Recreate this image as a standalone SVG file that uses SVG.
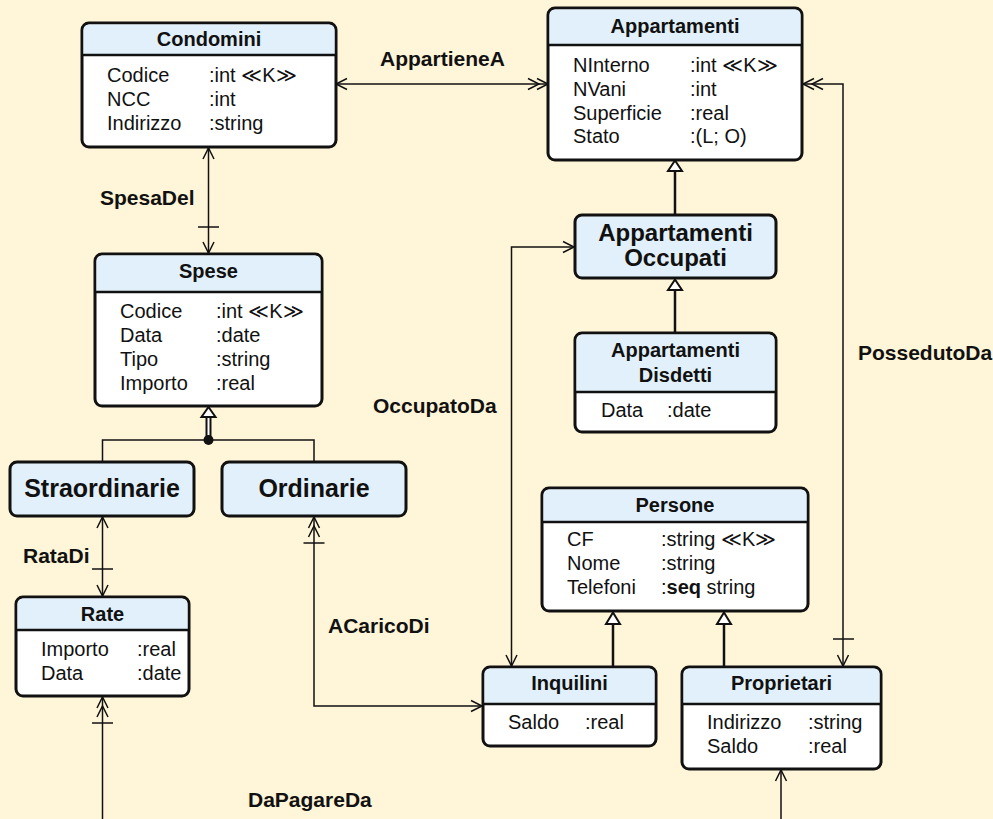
<svg xmlns="http://www.w3.org/2000/svg" width="993" height="819" viewBox="0 0 993 819">
<defs>
<style>
text{font-family:"Liberation Sans",Arial,Helvetica,sans-serif;fill:#111}
.box{fill:#fff;stroke:#111;stroke-width:3}
.hdr{fill:#e1f0fa}
.sep{stroke:#111;stroke-width:2.5}
.t{font-size:20px;font-weight:bold;text-anchor:middle}
.big{font-size:25px;font-weight:bold;text-anchor:middle}
.a{font-size:20px}
.lbl{font-size:21px;font-weight:bold}
.c{fill:none;stroke:#111;stroke-width:1.5}
.g{fill:none;stroke:#111;stroke-width:2.5}
.tri{fill:#fff;stroke:#111;stroke-width:2}
</style>
<marker id="arr" markerUnits="userSpaceOnUse" viewBox="-12 -7 14 14" refX="0" refY="0" markerWidth="14" markerHeight="14" orient="auto-start-reverse">
<path d="M-11,-5.5 L0,0 L-11,5.5" fill="none" stroke="#111" stroke-width="1.5"/>
</marker>
<marker id="arr2" markerUnits="userSpaceOnUse" viewBox="-22 -7 24 14" refX="0" refY="0" markerWidth="24" markerHeight="14" orient="auto-start-reverse">
<path d="M-11,-5.5 L0,0 L-11,5.5 M-20,-5.5 L-9,0 L-20,5.5" fill="none" stroke="#111" stroke-width="1.5"/>
</marker>
</defs>
<rect width="993" height="819" fill="#fff5d8"/>

<g id="connectors">
<line class="c" x1="336" y1="84" x2="548" y2="84" marker-start="url(#arr)" marker-end="url(#arr2)"/>
<line class="c" x1="208.5" y1="148" x2="208.5" y2="253" marker-start="url(#arr)" marker-end="url(#arr)"/>
<line class="c" x1="198" y1="227" x2="219" y2="227"/>
<line class="c" x1="102.5" y1="517" x2="102.5" y2="596" marker-start="url(#arr)" marker-end="url(#arr)"/>
<line class="c" x1="92" y1="569" x2="113" y2="569"/>
<path class="c" d="M314,517 V706 H482" marker-start="url(#arr2)" marker-end="url(#arr)"/>
<line class="c" x1="303.5" y1="543" x2="324.5" y2="543"/>
<line class="c" x1="102.5" y1="819" x2="102.5" y2="697" marker-end="url(#arr2)"/>
<line class="c" x1="92" y1="723" x2="113" y2="723"/>
<line class="c" x1="781" y1="819" x2="781" y2="770" marker-end="url(#arr)"/>
<path class="c" d="M574,247 H511.5 V666" marker-start="url(#arr)" marker-end="url(#arr)"/>
<path class="c" d="M803,84 H843 V666" marker-start="url(#arr2)" marker-end="url(#arr)"/>
<line class="c" x1="833" y1="639" x2="854" y2="639"/>
<!-- generalizations -->
<line class="g" x1="675" y1="171" x2="675" y2="215"/>
<path class="tri" d="M675,160.5 L682,171 L668,171 Z"/>
<line class="g" x1="675" y1="290" x2="675" y2="333"/>
<path class="tri" d="M675,279.5 L682,290 L668,290 Z"/>
<line class="g" x1="613" y1="624" x2="613" y2="667"/>
<path class="tri" d="M613,612.5 L620,624 L606,624 Z"/>
<line class="g" x1="724" y1="624" x2="724" y2="667"/>
<path class="tri" d="M724,612.5 L731,624 L717,624 Z"/>
<line x1="208.5" y1="417" x2="208.5" y2="440" stroke="#111" stroke-width="6"/>
<line x1="208.5" y1="417" x2="208.5" y2="437" stroke="#fff" stroke-width="2"/>
<path class="tri" d="M208.5,407 L215.5,417 L201.5,417 Z"/>
<path class="c" d="M102.5,462 V440 H314 V462"/>
<circle cx="208.5" cy="440" r="5" fill="#111"/>
</g>

<g id="labels">
<text class="lbl" x="380" y="66">AppartieneA</text>
<text class="lbl" x="100" y="205">SpesaDel</text>
<text class="lbl" x="23" y="563">RataDi</text>
<text class="lbl" x="328" y="633">ACaricoDi</text>
<text class="lbl" x="373" y="413">OccupatoDa</text>
<text class="lbl" x="858" y="360">PossedutoDa</text>
<text class="lbl" x="248" y="807">DaPagareDa</text>
</g>

<g id="Condomini">
<rect class="box" x="82" y="23" width="254" height="124" rx="7"/>
<path class="hdr" d="M89,24.5 H329 A5.5,5.5 0 0 1 334.5,30 V55 H83.5 V30 A5.5,5.5 0 0 1 89,24.5 Z"/>
<line class="sep" x1="82" y1="55" x2="336" y2="55"/>
<text class="t" x="209" y="46">Condomini</text>
<text class="a" x="107" y="82">Codice</text><text class="a" x="209" y="82">:int ≪K≫</text>
<text class="a" x="107" y="106">NCC</text><text class="a" x="209" y="106">:int</text>
<text class="a" x="107" y="130">Indirizzo</text><text class="a" x="209" y="130">:string</text>
</g>

<g id="Appartamenti">
<rect class="box" x="548" y="8" width="254" height="152" rx="7"/>
<path class="hdr" d="M555,9.5 H795 A5.5,5.5 0 0 1 800.5,15 V45 H549.5 V15 A5.5,5.5 0 0 1 555,9.5 Z"/>
<line class="sep" x1="548" y1="45" x2="802" y2="45"/>
<text class="t" x="675" y="33">Appartamenti</text>
<text class="a" x="573" y="72">NInterno</text><text class="a" x="690" y="72">:int ≪K≫</text>
<text class="a" x="573" y="96">NVani</text><text class="a" x="690" y="96">:int</text>
<text class="a" x="573" y="120">Superficie</text><text class="a" x="690" y="120">:real</text>
<text class="a" x="573" y="143">Stato</text><text class="a" x="690" y="143">:(L; O)</text>
</g>

<g id="Spese">
<rect class="box" x="95" y="254" width="227" height="152" rx="7"/>
<path class="hdr" d="M102,255.5 H315 A5.5,5.5 0 0 1 320.5,261 V292 H96.5 V261 A5.5,5.5 0 0 1 102,255.5 Z"/>
<line class="sep" x1="95" y1="292" x2="322" y2="292"/>
<text class="t" x="208.5" y="278">Spese</text>
<text class="a" x="120" y="318">Codice</text><text class="a" x="216" y="318">:int ≪K≫</text>
<text class="a" x="120" y="342">Data</text><text class="a" x="216" y="342">:date</text>
<text class="a" x="120" y="366">Tipo</text><text class="a" x="216" y="366">:string</text>
<text class="a" x="120" y="390">Importo</text><text class="a" x="216" y="390">:real</text>
</g>

<g id="Straordinarie">
<rect class="box" x="10" y="462" width="184" height="54" rx="7" style="fill:#e1f0fa"/>
<text class="big" x="102" y="497">Straordinarie</text>
</g>

<g id="Ordinarie">
<rect class="box" x="222" y="462" width="184" height="54" rx="7" style="fill:#e1f0fa"/>
<text class="big" x="314" y="497">Ordinarie</text>
</g>

<g id="Rate">
<rect class="box" x="16" y="597" width="173" height="99" rx="7"/>
<path class="hdr" d="M23,598.5 H182 A5.5,5.5 0 0 1 187.5,604 V630 H17.5 V604 A5.5,5.5 0 0 1 23,598.5 Z"/>
<line class="sep" x1="16" y1="630" x2="189" y2="630"/>
<text class="t" x="102.5" y="621">Rate</text>
<text class="a" x="41" y="656">Importo</text><text class="a" x="137" y="656">:real</text>
<text class="a" x="41" y="680">Data</text><text class="a" x="137" y="680">:date</text>
</g>

<g id="AppartamentiOccupati">
<rect class="box" x="575" y="215" width="201" height="63" rx="7" style="fill:#e1f0fa"/>
<text class="big" x="675.5" y="241" style="font-size:24px">Appartamenti</text>
<text class="big" x="675.5" y="266" style="font-size:24px">Occupati</text>
</g>

<g id="AppartamentiDisdetti">
<rect class="box" x="575" y="333" width="201" height="99" rx="7"/>
<path class="hdr" d="M582,334.5 H769 A5.5,5.5 0 0 1 774.5,340 V392 H576.5 V340 A5.5,5.5 0 0 1 582,334.5 Z"/>
<line class="sep" x1="575" y1="392" x2="776" y2="392"/>
<text class="t" x="675.5" y="357">Appartamenti</text>
<text class="t" x="675.5" y="382">Disdetti</text>
<text class="a" x="601" y="417">Data</text><text class="a" x="667" y="417">:date</text>
</g>

<g id="Persone">
<rect class="box" x="542" y="488" width="266" height="123" rx="7"/>
<path class="hdr" d="M549,489.5 H801 A5.5,5.5 0 0 1 806.5,495 V522 H543.5 V495 A5.5,5.5 0 0 1 549,489.5 Z"/>
<line class="sep" x1="542" y1="522" x2="808" y2="522"/>
<text class="t" x="675" y="512">Persone</text>
<text class="a" x="567" y="546">CF</text><text class="a" x="661" y="546">:string ≪K≫</text>
<text class="a" x="567" y="570">Nome</text><text class="a" x="661" y="570">:string</text>
<text class="a" x="567" y="594">Telefoni</text><text class="a" x="661" y="594">:<tspan font-weight="bold">seq</tspan> string</text>
</g>

<g id="Inquilini">
<rect class="box" x="483" y="667" width="173" height="79" rx="7"/>
<path class="hdr" d="M490,668.5 H649 A5.5,5.5 0 0 1 654.5,674 V704 H484.5 V674 A5.5,5.5 0 0 1 490,668.5 Z"/>
<line class="sep" x1="483" y1="704" x2="656" y2="704"/>
<text class="t" x="569.5" y="690">Inquilini</text>
<text class="a" x="508" y="729">Saldo</text><text class="a" x="585" y="729">:real</text>
</g>

<g id="Proprietari">
<rect class="box" x="682" y="667" width="199" height="102" rx="7"/>
<path class="hdr" d="M689,668.5 H874 A5.5,5.5 0 0 1 879.5,674 V704 H683.5 V674 A5.5,5.5 0 0 1 689,668.5 Z"/>
<line class="sep" x1="682" y1="704" x2="881" y2="704"/>
<text class="t" x="781.5" y="690">Proprietari</text>
<text class="a" x="707" y="729">Indirizzo</text><text class="a" x="808" y="729">:string</text>
<text class="a" x="707" y="753">Saldo</text><text class="a" x="808" y="753">:real</text>
</g>
</svg>
